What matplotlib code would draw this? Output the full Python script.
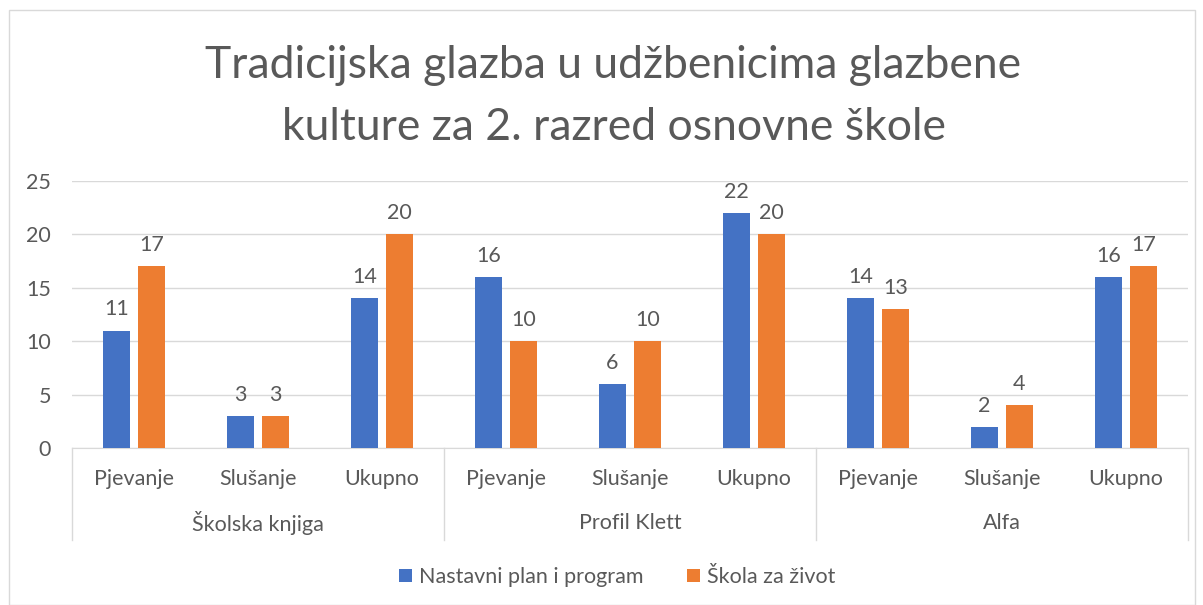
import matplotlib
matplotlib.use("Agg")
import matplotlib.pyplot as plt
from matplotlib.patches import Rectangle
import numpy as np

plt.rcParams['font.family'] = ['Lato', 'DejaVu Sans']

groups = ["Školska knjiga", "Profil Klett", "Alfa"]
subcats = ["Pjevanje", "Slušanje", "Ukupno"]
series_names = ["Nastavni plan i program", "Škola za život"]
nastavni = [11, 3, 14, 16, 6, 22, 14, 2, 16]
skola = [17, 3, 20, 10, 10, 20, 13, 4, 17]
colors = ["#4472C4", "#ED7D31"]
text_col = "#595959"

W, H = 1203, 605
fig = plt.figure(figsize=(W/100, H/100), dpi=100)
fig.patches.append(Rectangle((9/W, 0), (1195-9)/W, 1-10/H, transform=fig.transFigure,
                             fill=False, edgecolor="#d9d9d9", linewidth=1))

ax = fig.add_axes([72/W, 1-448/H, (1188-72)/W, (448-181)/H])
n = len(nastavni)
x = np.arange(n)
bw = 0.22
off = 0.141
b1 = ax.bar(x - off, nastavni, bw, color=colors[0], label=series_names[0], zorder=3)
b2 = ax.bar(x + off, skola, bw, color=colors[1], label=series_names[1], zorder=3)
for bars in (b1, b2):
    for r in bars:
        ax.annotate(f"{int(r.get_height())}", (r.get_x()+r.get_width()/2, r.get_height()),
                    xytext=(0, 8), textcoords="offset points", ha="center", va="bottom",
                    fontsize=15.5, color=text_col)

ax.set_xlim(-0.5, n-0.5)
ax.set_ylim(0, 25)
ax.set_yticks([0, 5, 10, 15, 20, 25])
ax.yaxis.grid(True, color="#d9d9d9", linewidth=1, zorder=0)
ax.set_axisbelow(True)
for s in ["top", "right", "left"]:
    ax.spines[s].set_visible(False)
ax.spines["bottom"].set_color("#d9d9d9")
ax.tick_params(axis="y", length=0, labelsize=15.5, labelcolor=text_col, pad=15)
ax.set_xticks(x)
ax.set_xticklabels(subcats*3)
ax.tick_params(axis="x", length=0, labelsize=15.5, labelcolor=text_col, pad=15)

trans = ax.get_xaxis_transform()
for gi, g in enumerate(groups):
    ax.text(gi*3+1, -(523-448)/(448-181), g, transform=trans, ha="center", va="center",
            fontsize=15.5, color=text_col)
for b in range(4):
    xp = b*3 - 0.5
    ax.plot([xp, xp], [0, -(540-448)/(448-181)], transform=trans, color="#d9d9d9",
            linewidth=1, clip_on=False)

fig.text(0.51, 1-66/H, "Tradicijska glazba u udžbenicima glazbene", ha="center", va="center",
         fontsize=32, color=text_col)
fig.text(0.51, 1-127/H, "kulture za 2. razred osnovne škole", ha="center", va="center",
         fontsize=32, color=text_col)

fig.legend(handles=[b1, b2], labels=series_names, loc="center", bbox_to_anchor=(0.513, 1-577/H),
           ncol=2, frameon=False, fontsize=15.5, labelcolor=text_col, handlelength=0.6,
           handleheight=0.6, columnspacing=2.0, handletextpad=0.35)

fig.savefig("out.png", dpi=100)
